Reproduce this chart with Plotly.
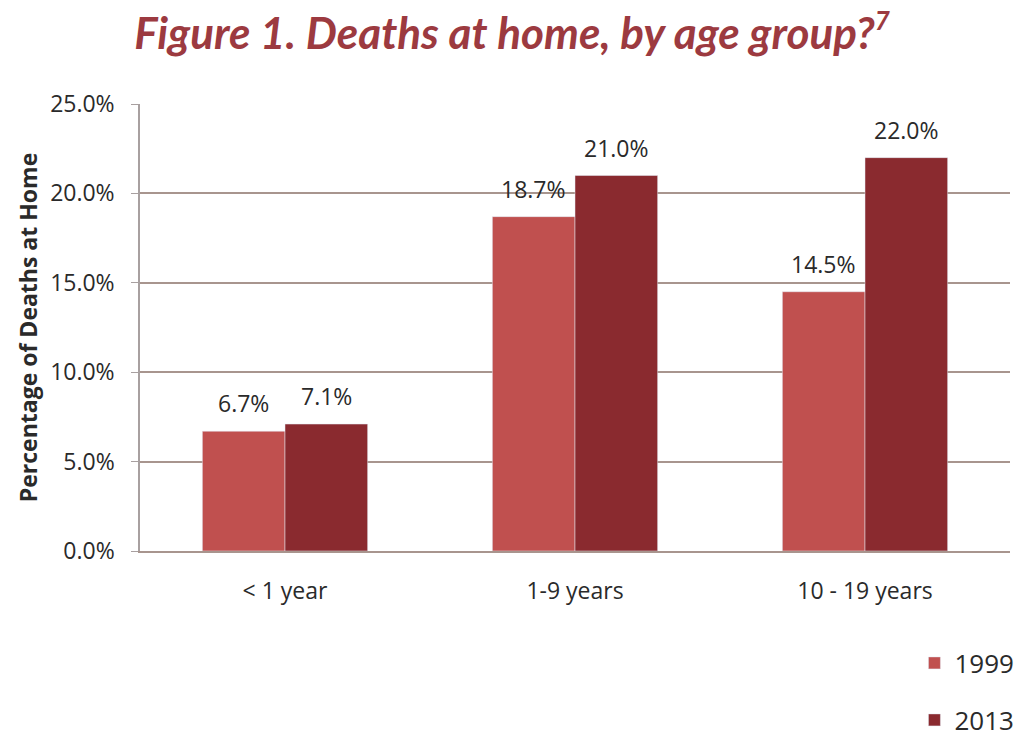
import plotly.graph_objects as go

categories = ["< 1 year", "1-9 years", "10 - 19 years"]
values_1999 = [6.7, 18.7, 14.5]
values_2013 = [7.1, 21.0, 22.0]
labels_1999 = ["6.7%", "18.7%", "14.5%"]
labels_2013 = ["7.1%", "21.0%", "22.0%"]
tick_vals = [0, 5, 10, 15, 20, 25]
tick_text = ["0.0%", "5.0%", "10.0%", "15.0%", "20.0%", "25.0%"]

font_fam = "Open Sans, Liberation Sans, sans-serif"
txt = "#2a2a2a"

fig = go.Figure()
fig.add_trace(go.Bar(
    x=categories, y=values_1999, name="1999", marker_color="#C0504F",
    legend="legend"))
fig.add_trace(go.Bar(
    x=categories, y=values_2013, name="2013", marker_color="#8A2A2F",
    legend="legend2"))

# data labels above each bar
half_bar = 0.57 * 290 / 4  # offset of a bar centre from its category centre, px
for series, labels, sign in ((values_1999, labels_1999, -1), (values_2013, labels_2013, 1)):
    for cat, v, lab in zip(categories, series, labels):
        fig.add_annotation(x=cat, y=v, text=lab, showarrow=False,
                           xshift=sign * half_bar, yshift=28, yanchor="middle",
                           font=dict(size=23, color=txt, family=font_fam))

fig.update_layout(
    width=1024, height=744,
    margin=dict(l=140, r=14, t=104, b=193, autoexpand=False),
    paper_bgcolor="white", plot_bgcolor="white",
    barmode="group", bargap=0.43, bargroupgap=0,
    title=dict(text="<i><b>Figure 1. Deaths at home, by age group?<sup><span style='font-size:26px'>7</span></sup></b></i>",
               x=0.5, xanchor="center", y=0.955, yanchor="middle",
               font=dict(size=44, color="#9C3A40", family="Lato, sans-serif")),
    font=dict(family=font_fam, color=txt),
    legend=dict(x=0.893, y=1 - 663 / 744, xref="container", yref="container",
                xanchor="left", yanchor="middle",
                font=dict(size=26, color=txt), bgcolor="rgba(0,0,0,0)"),
    legend2=dict(x=0.893, y=1 - 720 / 744, xref="container", yref="container",
                 xanchor="left", yanchor="middle",
                 font=dict(size=26, color=txt), bgcolor="rgba(0,0,0,0)"),
    showlegend=True,
)
fig.update_yaxes(range=[0, 25], tickvals=tick_vals, ticktext=tick_text,
                 showgrid=True, gridcolor="#A8958E", gridwidth=1.5,
                 showline=True, linecolor="#A8A0A0", linewidth=1.5,
                 ticks="outside", ticklen=7, tickcolor="#A8A0A0",
                 ticklabelstandoff=12,
                 tickfont=dict(size=23, color=txt),
                 title=dict(text="<b>Percentage of Deaths at Home</b>",
                            font=dict(size=23, color=txt), standoff=6),
                 zeroline=False, automargin=False)
fig.update_xaxes(showline=True, linecolor="#A8958E", linewidth=1.5,
                 tickfont=dict(size=23, color=txt), ticks="",
                 ticklabelstandoff=19, automargin=False)

fig.write_html("out.html")
